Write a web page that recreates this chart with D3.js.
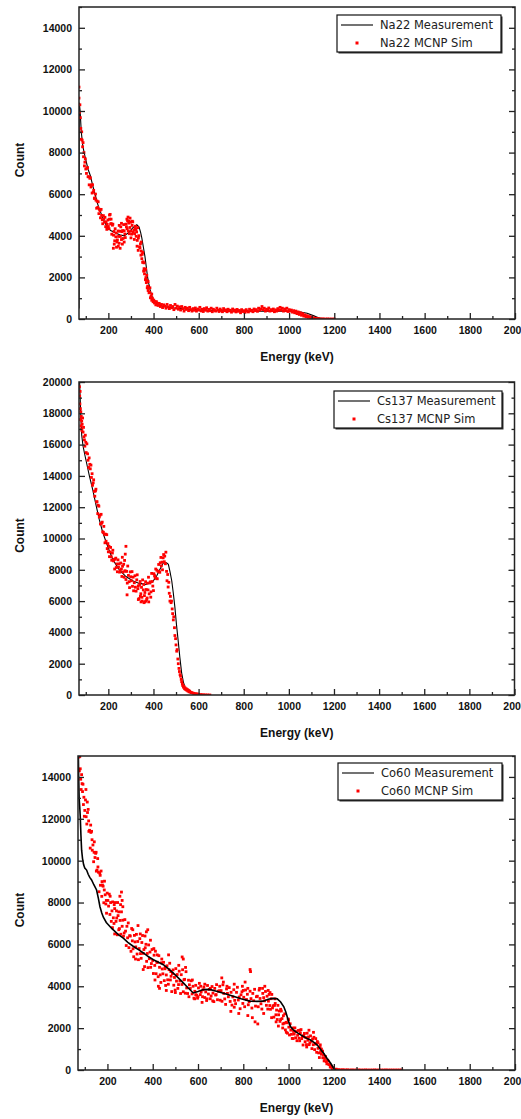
<!DOCTYPE html>
<html>
<head>
<meta charset="utf-8">
<script src="https://cdn.jsdelivr.net/npm/d3@7"></script>
<style>
  html, body { margin: 0; padding: 0; background: #fff; overflow: hidden; }
  svg { display: block; }
</style>
</head>
<body>
<svg id="chart" width="521" height="1119"></svg>
<script>
// ---- axis ticks ----
const energyDomain = [70, 2000];
const energyTicks = [200, 400, 600, 800, 1000, 1200, 1400, 1600, 1800, 2000];
const energyMinorTicks = [100, 300, 500, 700, 900, 1100, 1300, 1500, 1700, 1900];
const countTicks15k = [0, 2000, 4000, 6000, 8000, 10000, 12000, 14000];
const countMinor15k = [1000, 3000, 5000, 7000, 9000, 11000, 13000, 15000];
const countTicks20k = [0, 2000, 4000, 6000, 8000, 10000, 12000, 14000, 16000, 18000, 20000];
const countMinor20k = [1000, 3000, 5000, 7000, 9000, 11000, 13000, 15000, 17000, 19000];

// ---- Na22 spectra [energy keV, count] ----
const na22Measured = [[70,500],[71,10400],[75,10000],[80,9000],[87,8300],[97,7800],[110,7200],[120,6900],[130,6450],[141,6000],[152,5550],[163,5200],[180,4750],[193,4450],[210,4250],[230,4150],[250,4050],[270,4000],[290,4150],[310,4400],[326,4530],[336,4420],[343,4150],[348,3900],[355,3450],[362,3000],[368,2500],[373,2050],[379,1700],[385,1400],[392,1120],[399,920],[415,720],[440,610],[480,540],[540,480],[600,440],[700,400],[800,370],[900,370],[1000,370],[1050,340],[1080,280],[1110,150],[1130,60],[1150,10],[1200,0]];

const na22Simulated = [[70,11150],[70,10620],[72,9940],[74,10300],[76,9680],[78,9160],[80,8640],[82,9000],[84,8600],[86,8280],[88,8480],[90,7800],[92,8000],[94,7360],[96,7540],[98,7700],[100,7210],[103,7000],[105,7250],[108,7280],[110,6840],[113,6840],[115,6450],[118,6765],[120,6795],[123,6345],[125,6445],[128,6055],[130,6455],[133,6095],[135,6185],[138,5795],[140,5825],[143,6005],[145,5715],[148,5325],[150,5665],[153,5365],[155,5635],[158,5065],[160,5275],[163,5215],[165,4865],[168,5270],[170,4980],[173,4770],[175,4580],[178,4970],[180,4810],[183,4660],[185,4890],[188,4440],[190,4670],[193,4310],[195,4550],[198,4760],[200,4445],[203,4340],[205,4800],[208,5030],[210,4570],[213,4585],[215,4075],[218,4510],[220,4560],[223,4030],[225,4210],[228,3760],[230,4340],[233,3950],[235,4130],[238,3700],[240,3800],[243,4230],[245,3970],[248,3640],[250,4220],[253,3970],[255,4430],[258,3820],[260,4200],[263,4250],[265,3870],[268,4540],[270,4240],[273,4085],[275,3915],[278,4560],[280,4430],[283,4340],[285,4720],[288,4230],[290,4610],[293,4100],[295,4400],[298,4650],[300,4230],[303,4080],[305,4500],[308,4670],[310,4170],[313,4275],[315,3825],[318,4350],[320,4460],[323,3975],[325,4185],[328,3780],[330,4390],[333,3895],[335,4005],[338,3470],[205,5000],[212,4800],[222,3400],[226,3600],[236,3450],[244,3500],[252,3400],[262,3600],[270,3700],[282,4800],[287,4900],[292,4700],[296,4850],[300,3900],[306,4700],[316,4100],[322,4300],[327,3500],[332,3300],[248,4500],[258,4600],[340,3425],[342,3610],[344,3070],[346,3270],[348,2900],[350,3110],[352,2720],[354,2750],[356,2300],[358,2420],[360,2170],[362,2340],[364,1890],[366,1990],[368,1750],[370,1860],[372,1500],[374,1580],[376,1370],[378,1490],[380,1260],[383,1290],[386,1020],[389,1090],[392,900],[395,1005],[398,830],[401,910],[404,770],[407,840],[410,680],[413,830],[416,690],[419,755],[345,3700],[352,3200],[358,2700],[365,2400],[370,2100],[376,1800],[384,1500],[392,1200],[420,650],[425,750],[430,600],[435,700],[440,550],[445,680],[450,620],[455,520],[460,700],[465,580],[470,500],[475,650],[480,540],[485,600],[490,450],[495,700],[500,520],[505,620],[510,470],[515,580],[520,430],[525,600],[530,500],[535,380],[540,560],[545,460],[550,520],[555,400],[560,560],[565,450],[570,380],[575,500],[580,420],[585,530],[590,380],[595,480],[600,430],[605,560],[610,390],[615,470],[620,360],[625,500],[630,420],[635,540],[640,380],[645,460],[650,400],[655,520],[660,350],[665,470],[670,410],[675,380],[680,520],[685,430],[690,360],[695,480],[700,410],[705,350],[710,500],[715,400],[720,440],[725,350],[730,470],[735,390],[740,420],[745,330],[750,480],[755,380],[760,430],[765,340],[770,460],[775,370],[780,410],[785,300],[790,450],[795,360],[800,400],[805,320],[810,450],[815,380],[820,340],[825,470],[830,390],[835,420],[840,350],[845,480],[850,400],[855,450],[860,370],[865,520],[870,430],[875,480],[880,600],[885,450],[890,520],[895,380],[900,470],[905,420],[910,530],[915,380],[920,450],[925,400],[930,480],[935,350],[940,440],[945,380],[950,500],[955,420],[960,560],[965,430],[970,520],[975,380],[980,480],[985,400],[990,520],[995,360],[1000,450],[1005,380],[1010,430],[1015,330],[1020,400],[1025,300],[1030,380],[1035,260],[1040,340],[1045,220],[1050,300],[1055,180],[1060,260],[1065,140],[1070,200],[1075,110],[1080,160],[1085,80],[1090,120],[1095,60],[1100,90],[1105,40],[1110,50],[1115,20],[1120,30],[1125,10],[1130,15],[1140,5],[1150,10],[1160,0],[1170,5],[1180,0],[1190,0],[1200,0]];

// ---- Cs137 spectra ----
const cs137Measured = [[70,21000],[74,19500],[78,17800],[82,16600],[88,15900],[95,15400],[101,15000],[116,14000],[131,13100],[146,12100],[160,11200],[175,10400],[197,9500],[220,8650],[249,8000],[278,7570],[308,7300],[337,7130],[367,7070],[397,7250],[414,7600],[426,7950],[444,8450],[458,8450],[466,8350],[473,7900],[481,7300],[488,6500],[495,5600],[502,4500],[510,3400],[517,2400],[525,1400],[533,800],[540,480],[550,250],[565,120],[580,60],[600,20],[620,0]];

const cs137Simulated = [[71,20300],[72,19700],[73,19100],[74,18600],[75,19400],[76,18300],[77,17600],[78,18100],[79,17200],[80,17800],[81,17000],[82,17500],[83,16900],[84,17300],[86,17700],[88,16800],[90,17100],[92,16500],[94,16300],[96,15900],[98,16600],[100,16150],[102,15490],[105,16050],[108,15410],[110,15000],[113,14540],[115,15150],[118,14740],[120,14450],[123,14690],[125,13900],[128,14140],[130,13400],[133,13560],[135,13750],[138,13010],[140,12700],[143,13040],[145,13150],[148,12340],[150,12350],[153,11590],[155,12125],[158,12065],[160,11375],[163,11495],[165,10925],[168,11545],[170,10975],[173,11045],[175,10425],[178,10395],[180,10775],[183,10275],[185,9725],[188,10275],[190,9825],[193,10245],[195,9355],[198,9675],[200,9150],[203,9500],[205,8840],[208,9140],[210,9430],[213,8830],[215,8610],[218,9070],[220,9250],[223,8570],[225,8670],[228,8050],[230,8675],[233,8745],[235,8145],[238,8375],[240,7875],[243,8635],[245,8165],[248,8375],[250,7850],[253,7965],[255,8435],[258,8050],[260,7575],[263,8225],[265,7850],[268,8355],[270,7525],[273,7925],[275,7925],[278,7380],[275,9000],[278,9500],[272,8600],[262,8800],[281,7900],[284,7150],[286,8240],[289,7640],[292,7240],[294,6860],[297,7865],[299,7555],[302,7300],[305,7885],[307,6945],[310,7530],[312,6660],[315,7175],[318,7620],[320,6890],[323,6635],[326,7360],[328,7680],[331,6795],[333,6975],[336,6160],[339,7060],[341,7250],[344,6470],[347,6880],[349,6245],[352,7355],[355,6715],[357,7060],[360,6350],[362,6550],[365,7240],[368,6740],[370,6105],[373,7145],[376,6715],[378,7525],[381,6465],[384,7155],[386,7230],[389,6590],[392,7770],[394,7250],[397,6960],[400,6670],[283,6400],[345,5950],[358,5900],[366,6000],[333,6100],[350,6000],[362,5950],[372,6200],[379,5950],[388,6250],[342,6300],[402,7750],[405,7625],[407,7525],[410,8050],[412,7450],[415,7975],[417,7425],[420,7900],[423,8340],[425,7900],[428,7840],[430,8450],[433,8790],[435,8250],[438,8490],[440,8000],[443,8765],[445,8975],[448,8515],[450,8875],[453,8385],[455,9125],[458,7900],[460,7300],[463,7700],[465,6900],[468,7200],[470,6500],[473,6000],[475,6300],[478,5900],[480,6000],[483,5500],[485,5200],[488,4800],[490,5000],[493,4300],[495,3800],[498,3600],[500,3200],[503,2800],[505,2900],[508,2300],[510,2000],[513,1700],[515,1500],[518,1300],[520,1200],[523,1000],[525,850],[528,700],[530,600],[533,500],[535,550],[538,400],[540,450],[543,350],[545,400],[548,300],[550,350],[553,250],[555,300],[558,200],[560,250],[565,180],[570,150],[575,120],[580,100],[585,80],[590,60],[595,70],[600,40],[610,30],[620,20],[630,10],[640,5],[650,0]];

// ---- Co60 spectra ----
const co60Measured = [[71,15500],[73,14000],[75,13000],[78,12500],[80,12100],[83,11200],[86,10500],[90,10100],[95,9800],[100,9650],[108,9550],[115,9350],[122,9200],[130,9080],[140,8850],[152,8600],[160,8200],[167,7800],[175,7500],[182,7300],[195,7050],[204,6940],[220,6750],[233,6620],[250,6450],[270,6300],[290,6100],[315,5900],[337,5750],[359,5590],[380,5420],[403,5270],[425,5150],[447,5030],[470,4830],[491,4630],[513,4400],[535,4160],[557,3920],[579,3680],[600,3750],[624,3840],[650,3850],[682,3760],[720,3640],[756,3520],[790,3400],[829,3290],[860,3280],[888,3290],[910,3380],[932,3420],[950,3400],[965,3250],[979,3020],[987,2800],[994,2540],[1002,2250],[1009,2060],[1020,1930],[1031,1830],[1050,1700],[1068,1590],[1083,1500],[1097,1430],[1112,1320],[1127,1190],[1140,1000],[1156,790],[1170,550],[1186,320],[1197,120],[1207,0]];

const co60Simulated = [[74,14950],[76,14290],[78,14980],[80,14390],[82,13890],[84,13400],[86,14110],[88,13680],[90,13300],[92,13650],[94,12680],[96,13030],[98,12120],[100,12400],[103,12900],[106,12100],[109,11750],[112,12300],[115,12450],[118,11400],[121,11450],[124,10600],[127,11350],[130,11400],[133,10500],[136,10750],[139,9950],[142,10900],[145,10150],[148,10350],[151,9500],[154,9550],[157,10100],[160,9450],[163,8515],[166,9405],[169,8825],[172,9505],[175,8295],[178,8835],[181,8780],[184,7990],[187,9020],[190,8370],[193,7930],[196,7490],[199,8450],[105,13400],[111,12800],[117,11900],[126,11700],[132,11000],[141,10400],[150,10400],[158,9700],[168,9300],[176,9000],[186,8600],[195,8100],[202,8100],[205,7830],[208,8400],[211,7430],[214,8000],[217,7100],[220,7600],[223,8030],[226,7270],[229,7000],[232,7710],[235,8000],[238,7100],[241,7260],[244,6460],[247,7375],[250,7555],[253,6755],[256,7145],[259,6485],[262,7555],[265,6865],[268,7155],[271,6395],[274,6545],[277,7185],[280,6635],[283,5945],[286,6865],[289,6315],[292,7025],[295,5845],[298,6415],[255,8300],[258,7900],[262,8500],[265,8100],[268,7800],[240,7600],[245,8000],[230,7900],[250,6700],[222,6800],[212,8300],[232,6500],[301,6400],[304,5670],[307,6760],[310,6170],[313,5790],[316,5410],[319,6430],[322,6120],[325,5880],[328,6480],[331,5540],[334,6140],[337,5270],[340,5800],[343,6275],[346,5560],[349,5335],[352,6090],[355,6425],[358,5570],[361,5755],[364,4940],[367,5840],[370,6005],[373,5190],[376,5565],[379,4890],[382,5975],[385,5315],[388,5635],[391,4905],[394,5085],[397,5755],[312,6700],[335,6900],[345,6500],[366,6400],[378,6700],[390,6200],[372,6600],[324,5300],[358,4800],[400,5230],[403,4610],[406,5485],[409,4995],[412,5675],[415,4600],[418,5145],[421,5145],[424,4457],[427,5461],[430,4905],[433,4544],[436,4183],[439,5122],[442,4826],[445,4595],[448,5144],[451,4269],[454,4836],[457,4038],[460,4540],[463,4977],[466,4309],[469,4096],[472,4793],[475,5100],[478,4302],[481,4479],[484,3746],[487,4605],[490,4782],[493,4050],[496,4421],[499,3818],[502,4845],[505,4247],[508,4560],[511,3898],[514,4081],[517,4720],[520,4252],[523,3655],[526,4553],[529,4086],[532,4790],[535,3737],[538,4310],[541,4331],[544,3669],[547,4697],[410,4300],[420,5500],[430,3900],[440,5300],[455,4900],[470,5500],[480,4700],[500,3700],[515,5000],[530,5400],[535,5300],[545,4900],[460,3800],[425,4000],[405,5800],[550,3920],[554,3655],[558,4290],[562,4070],[566,3895],[570,4260],[574,3635],[578,4000],[582,3430],[586,3760],[590,4045],[594,3570],[598,3430],[602,3920],[606,4140],[610,3600],[614,3730],[618,3230],[622,3833],[626,3963],[630,3462],[634,3730],[638,3320],[642,4038],[646,3630],[650,3853],[654,3402],[658,3537],[662,3988],[666,3673],[670,3267],[674,3898],[678,3582],[682,4078],[686,3357],[690,3763],[694,3785],[698,3335],[560,3500],[575,4300],[585,3400],[600,3500],[612,4000],[630,4100],[640,3400],[655,3900],[665,3300],[680,3600],[696,4000],[620,3500],[590,3600],[702,3794],[706,3282],[710,4070],[714,3658],[718,3396],[722,3134],[726,3872],[730,3660],[734,3498],[738,3936],[742,3274],[746,3712],[750,3100],[754,3492],[758,3834],[762,3326],[766,3168],[770,3710],[774,3952],[778,3344],[782,3486],[786,2928],[790,3595],[794,3737],[798,3179],[802,3474],[806,3023],[810,3821],[814,3369],[818,3618],[822,3116],[826,3265],[830,3763],[834,3411],[838,2960],[842,3658],[846,3307],[850,3855],[854,3053],[858,3501],[862,3523],[866,3021],[870,3818],[874,3416],[878,3164],[882,2912],[886,3659],[890,3457],[894,3304],[898,3752],[705,4400],[712,4200],[728,4000],[745,2800],[760,4100],[780,2700],[796,4000],[808,4200],[820,2600],[830,4800],[832,4700],[840,2500],[852,2300],[864,2200],[872,3900],[885,3900],[890,2700],[895,4000],[800,3800],[760,3000],[820,3900],[902,3090],[905,3525],[908,2910],[911,3290],[914,3610],[917,3080],[920,2900],[923,3405],[926,3610],[929,2965],[932,3070],[935,2525],[938,3088],[941,3178],[944,2637],[947,2863],[950,2412],[953,3088],[956,2637],[959,2818],[962,2322],[965,2412],[968,2818],[971,2458],[974,2007],[977,2593],[980,2232],[983,2683],[986,1917],[989,2278],[992,2255],[995,1760],[998,2435],[910,3800],[918,3700],[925,2500],[940,3400],[955,2100],[965,2900],[975,2200],[990,1800],[1000,2400],[945,2300],[1001,2047],[1004,1673],[1007,2209],[1010,1905],[1013,1706],[1016,1507],[1019,2008],[1022,1844],[1025,1715],[1028,2012],[1031,1539],[1034,1836],[1037,1398],[1040,1660],[1043,1887],[1046,1519],[1049,1396],[1052,1767],[1055,1930],[1058,1498],[1061,1591],[1064,1194],[1067,1655],[1070,1748],[1073,1350],[1076,1547],[1079,1213],[1082,1756],[1085,1422],[1088,1580],[1091,1211],[1094,1298],[1097,1631],[1100,1368],[1103,1022],[1106,1483],[1109,1207],[1112,1563],[1115,972],[1118,1258],[1121,1240],[1124,845],[1127,1360],[1130,1035],[1133,815],[1136,595],[1139,1075],[1142,890],[1145,755],[1148,890],[1151,585],[1154,720],[1157,435],[1160,550],[1163,645],[1166,400],[1169,295],[1172,470],[1175,425],[1178,260],[1181,255],[1184,140],[1187,185],[1190,140],[1193,70],[1196,110],[1199,40],[1090,1900],[1110,1800],[1120,1500],[1130,1300],[1140,1200],[1080,1100],[1050,1900],[1020,1500],[1145,1000],[1150,900],[1205,30],[1210,40],[1220,20],[1230,10],[1240,15],[1250,5],[1260,10],[1270,0],[1280,5],[1290,0],[1300,0],[1310,5],[1320,0],[1330,0],[1340,5],[1350,0],[1360,0],[1370,0],[1380,5],[1390,0],[1400,0],[1410,0],[1420,0],[1430,5],[1440,0],[1450,0],[1460,0],[1470,0],[1480,0],[1490,0],[1500,0]];

// ---- panel layout ----
const panels = [
  { id: "na22", left: 79, right: 515, top: 7, bottom: 319, yMax: 15000,
    ticks: countTicks15k, minor: countMinor15k, titleY: 357,
    measured: na22Measured, simulated: na22Simulated, lineOnTop: false, lineWidth: 1.1,
    names: ["Na22 Measurement", "Na22 MCNP Sim"], legend: { x: 337, y: 15, w: 164 } },
  { id: "cs137", left: 79, right: 514.5, top: 382, bottom: 695, yMax: 20000,
    ticks: countTicks20k, minor: countMinor20k, titleY: 733,
    measured: cs137Measured, simulated: cs137Simulated, lineOnTop: false, lineWidth: 1.1,
    names: ["Cs137 Measurement", "Cs137 MCNP Sim"], legend: { x: 334, y: 391, w: 168 } },
  { id: "co60", left: 78, right: 515, top: 756, bottom: 1070, yMax: 15000,
    ticks: countTicks15k, minor: countMinor15k, titleY: 1108,
    measured: co60Measured, simulated: co60Simulated, lineOnTop: true, lineWidth: 1.6,
    names: ["Co60 Measurement", "Co60 MCNP Sim"], legend: { x: 338, y: 763, w: 164 } }
];

const svg = d3.select("#chart");
const axisColor = "#222";
const tickFont = "bold 10.5px 'Liberation Sans', Arial, sans-serif";
const markerSize = 2.8;

function styleAxis(sel) {
  sel.select(".domain").remove();
  sel.selectAll(".tick line").attr("stroke", axisColor).attr("stroke-width", 1.3);
  sel.selectAll(".tick text").attr("fill", "#111").style("font", tickFont);
}

panels.forEach(p => {
  const g = svg.append("g").attr("class", "panel-" + p.id);
  const x = d3.scaleLinear().domain(energyDomain).range([p.left, p.right]);
  const y = d3.scaleLinear().domain([0, p.yMax]).range([p.bottom, p.top]);

  g.append("clipPath").attr("id", "clip-" + p.id)
    .append("rect")
    .attr("x", p.left).attr("y", p.top)
    .attr("width", p.right - p.left).attr("height", p.bottom - p.top);

  const plot = g.append("g").attr("clip-path", "url(#clip-" + p.id + ")");

  const line = d3.line().x(d => x(d[0])).y(d => y(d[1]));
  const drawLine = () => plot.append("path")
    .datum(p.measured)
    .attr("d", line)
    .attr("fill", "none")
    .attr("stroke", "#000")
    .attr("stroke-width", p.lineWidth);
  const drawSim = () => plot.append("g").selectAll("rect")
    .data(p.simulated)
    .join("rect")
    .attr("x", d => x(d[0]) - markerSize / 2)
    .attr("y", d => y(d[1]) - markerSize / 2)
    .attr("width", markerSize)
    .attr("height", markerSize)
    .attr("fill", "#ff0000");

  if (p.lineOnTop) { drawSim(); drawLine(); } else { drawLine(); drawSim(); }

  // bottom axis, ticks pointing inward
  g.append("g").attr("transform", `translate(0,${p.bottom})`)
    .call(d3.axisBottom(x).tickValues(energyTicks).tickSize(-6).tickPadding(8)
      .tickFormat(d3.format("d")))
    .call(styleAxis);
  g.append("g").attr("transform", `translate(0,${p.bottom})`)
    .call(d3.axisBottom(x).tickValues(energyMinorTicks).tickSize(-3).tickFormat(""))
    .call(styleAxis);

  // left axis
  g.append("g").attr("transform", `translate(${p.left},0)`)
    .call(d3.axisLeft(y).tickValues(p.ticks).tickSize(-6).tickPadding(7)
      .tickFormat(d3.format("d")))
    .call(styleAxis);
  g.append("g").attr("transform", `translate(${p.left},0)`)
    .call(d3.axisLeft(y).tickValues(p.minor).tickSize(-3).tickFormat(""))
    .call(styleAxis);

  // right axis mirror ticks
  g.append("g").attr("transform", `translate(${p.right},0)`)
    .call(d3.axisRight(y).tickValues(p.ticks).tickSize(-6).tickFormat(""))
    .call(styleAxis);
  g.append("g").attr("transform", `translate(${p.right},0)`)
    .call(d3.axisRight(y).tickValues(p.minor).tickSize(-3).tickFormat(""))
    .call(styleAxis);

  // frame
  g.append("rect")
    .attr("x", p.left).attr("y", p.top)
    .attr("width", p.right - p.left).attr("height", p.bottom - p.top)
    .attr("fill", "none").attr("stroke", axisColor).attr("stroke-width", 1.5);

  // axis titles
  g.append("text")
    .attr("x", (p.left + p.right) / 2).attr("y", p.titleY)
    .attr("text-anchor", "middle").attr("dominant-baseline", "central")
    .style("font", "bold 12px 'Liberation Sans', Arial, sans-serif")
    .attr("fill", "#111")
    .text("Energy (keV)");
  g.append("text")
    .attr("transform", `translate(20,${(p.top + p.bottom) / 2 - 3}) rotate(-90)`)
    .attr("text-anchor", "middle").attr("dominant-baseline", "central")
    .style("font", "bold 12px 'Liberation Sans', Arial, sans-serif")
    .attr("fill", "#111")
    .text("Count");

  // legend
  const L = p.legend, lh = 37;
  const lg = g.append("g");
  lg.append("rect").attr("x", L.x + 1.5).attr("y", L.y + 1.5)
    .attr("width", L.w).attr("height", lh).attr("fill", "#333");
  lg.append("rect").attr("x", L.x).attr("y", L.y)
    .attr("width", L.w).attr("height", lh)
    .attr("fill", "#fff").attr("stroke", "#111").attr("stroke-width", 1.2);
  lg.append("line")
    .attr("x1", L.x + 4).attr("x2", L.x + 36)
    .attr("y1", L.y + 10).attr("y2", L.y + 10)
    .attr("stroke", "#000").attr("stroke-width", 1.1);
  lg.append("rect")
    .attr("x", L.x + 20 - 1.5).attr("y", L.y + 28 - 1.5)
    .attr("width", 3).attr("height", 3).attr("fill", "#ff0000");
  lg.selectAll("text.entry").data(p.names).join("text")
    .attr("class", "entry")
    .attr("x", L.x + 43)
    .attr("y", (d, i) => L.y + 10 + i * 18)
    .attr("dominant-baseline", "central")
    .style("font", "11.5px 'DejaVu Sans', sans-serif")
    .attr("fill", "#222")
    .text(d => d);
});
</script>
</body>
</html>
